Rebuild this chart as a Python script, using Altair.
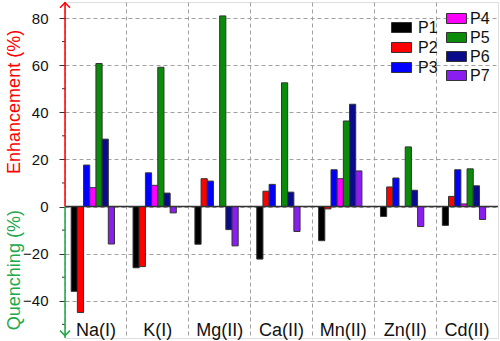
import altair as alt
import pandas as pd

categories = ["Na(I)", "K(I)", "Mg(II)", "Ca(II)", "Mn(II)", "Zn(II)", "Cd(II)"]
series_names = ["P1", "P2", "P3", "P4", "P5", "P6", "P7"]
P1 = [-36.0, -26.0, -16.0, -22.3, -14.5, -4.2, -8.0]
P2 = [-45.0, -25.5, 11.8, 6.5, -1.0, 8.3, 4.3]
P3 = [17.6, 14.3, 10.8, 9.4, 15.6, 12.1, 15.6]
P4 = [8.0, 9.0, 0.0, 0.0, 11.8, 0.0, 1.1]
P5 = [60.7, 59.1, 80.9, 52.5, 36.3, 25.3, 16.0]
P6 = [28.6, 5.7, -9.8, 6.1, 43.4, 6.9, 8.8]
P7 = [-15.9, -2.7, -16.7, -10.6, 15.1, -8.5, -5.5]
series_colors = ["#000000", "#ff0000", "#0000ff", "#ff00ff", "#0a8c0a", "#0a0a8a", "#8a1ef0"]
y_labels = [-40, -20, 0, 20, 40, 60, 80]
minor_ticks = [-50, -30, -10, 10, 30, 50, 70]

values = {"P1": P1, "P2": P2, "P3": P3, "P4": P4, "P5": P5, "P6": P6, "P7": P7}
rows = [{"cat": c, "series": s, "value": values[s][i]}
        for s in series_names for i, c in enumerate(categories)]
df = pd.DataFrame(rows)

Y_MIN, Y_MAX = -55.8, 86.8
W, H = 433, 336
slots = ["_a"] + series_names + ["_b", "_c"]
FONT = "Liberation Sans"

yscale = alt.Scale(domain=[Y_MIN, Y_MAX], nice=False)
xscale = alt.Scale(domain=categories, paddingInner=0, paddingOuter=0)

y_axis = alt.Axis(values=y_labels, title=None, domain=False, tickSize=6,
                  tickColor="#333", labelFontSize=15, labelFont=FONT,
                  labelColor="#111", labelPadding=11, grid=True,
                  gridColor="#a0a0a0", gridDash=[4, 3])

x_enc = alt.X("cat:N", scale=xscale, sort=categories,
              axis=alt.Axis(title=None, domain=False, ticks=False, tickSize=0,
                            grid=True, gridColor="#a0a0a0", gridDash=[4, 3],
                            bandPosition=0, labelPadding=-3,
                            labelBaseline="alphabetic", labelAngle=0,
                            labelFontSize=18, labelFont=FONT, labelColor="#111"))
xoff = alt.XOffset("series:N", scale=alt.Scale(domain=slots, paddingInner=0, paddingOuter=0))
y_enc = alt.Y("value:Q", scale=yscale, stack=None, axis=y_axis)

rect_path = "M-1,-0.5L1,-0.5L1,0.5L-1,0.5Z"

legA = alt.Legend(title=None, orient="none", legendX=326, legendY=15,
                  symbolType=rect_path, symbolSize=400, symbolStrokeColor="#333",
                  symbolStrokeWidth=1, labelFontSize=16, labelFont=FONT,
                  labelColor="#111", labelOffset=6, rowPadding=1, padding=0)
legB = alt.Legend(title=None, orient="none", legendX=381, legendY=6,
                  symbolType=rect_path, symbolSize=400, symbolStrokeColor="#333",
                  symbolStrokeWidth=1, labelFontSize=16, labelFont=FONT,
                  labelColor="#111", labelOffset=3, rowPadding=-2, padding=0)

barsA = alt.Chart(df).transform_filter(
    alt.FieldOneOfPredicate(field="series", oneOf=series_names[:3])
).mark_bar(stroke="#333", strokeWidth=1).encode(
    x=x_enc, xOffset=xoff, y=y_enc,
    color=alt.Color("series:N", scale=alt.Scale(domain=series_names[:3], range=series_colors[:3]),
                    legend=legA))

barsB = alt.Chart(df).transform_filter(
    alt.FieldOneOfPredicate(field="series", oneOf=series_names[3:])
).mark_bar(stroke="#333", strokeWidth=1).encode(
    x=x_enc, xOffset=xoff, y=y_enc,
    fill=alt.Fill("series:N", scale=alt.Scale(domain=series_names[3:], range=series_colors[3:]),
                  legend=legB))

minor = alt.Chart(pd.DataFrame({"v": minor_ticks})).mark_rule(color="#333").encode(
    y=alt.Y("v:Q", scale=yscale, axis=y_axis), x=alt.value(-3), x2=alt.value(0))

zero = alt.Chart(pd.DataFrame({"v": [0]})).mark_rule(color="#333", strokeWidth=1.5).encode(
    y=alt.Y("v:Q", scale=yscale, axis=y_axis))

red_line = alt.Chart(pd.DataFrame({"lo": [0.0], "hi": [Y_MAX]})).mark_rule(
    color="#ff0000", strokeWidth=1.5).encode(
    x=alt.value(0), y=alt.Y("lo:Q", scale=yscale, axis=y_axis), y2="hi:Q")
green_line = alt.Chart(pd.DataFrame({"lo": [Y_MIN], "hi": [0.0]})).mark_rule(
    color="#23a94c", strokeWidth=1.5).encode(
    x=alt.value(0), y=alt.Y("lo:Q", scale=yscale, axis=y_axis), y2="hi:Q")
red_arrow = alt.Chart(pd.DataFrame({"v": [Y_MAX - 0.3]})).mark_point(
    shape="M-1,1L0,0L1,1", filled=False, color="#ff0000", size=100, strokeWidth=1.5,
    opacity=1).encode(x=alt.value(0), y=alt.Y("v:Q", scale=yscale, axis=y_axis))
green_arrow = alt.Chart(pd.DataFrame({"v": [Y_MIN + 1.0]})).mark_point(
    shape="M-1,-1L0,0L1,-1", filled=False, color="#23a94c", size=100, strokeWidth=1.5,
    opacity=1).encode(x=alt.value(0), y=alt.Y("v:Q", scale=yscale, axis=y_axis))

title_up = alt.Chart(pd.DataFrame({"v": [44.4], "t": ["Enhancement (%)"]})).mark_text(
    angle=270, fontSize=18, font=FONT, color="#ff0000", align="center", baseline="middle").encode(
    x=alt.value(-50), y=alt.Y("v:Q", scale=yscale, axis=y_axis), text="t:N")
title_dn = alt.Chart(pd.DataFrame({"v": [-27.0], "t": ["Quenching (%)"]})).mark_text(
    angle=270, fontSize=18, font=FONT, color="#23a94c", align="center", baseline="middle").encode(
    x=alt.value(-50), y=alt.Y("v:Q", scale=yscale, axis=y_axis), text="t:N")

chart = alt.layer(barsA, barsB, minor, zero, red_line, green_line, red_arrow, green_arrow,
                  title_up, title_dn).properties(
    width=W, height=H,
    autosize=alt.AutoSizeParams(type="none"),
    padding={"left": 65, "top": 2, "right": 2, "bottom": 3},
).configure_view(stroke="#555", strokeWidth=1).configure(font=FONT)

chart.save("out.html", embed_options={"renderer": "svg", "actions": False})
